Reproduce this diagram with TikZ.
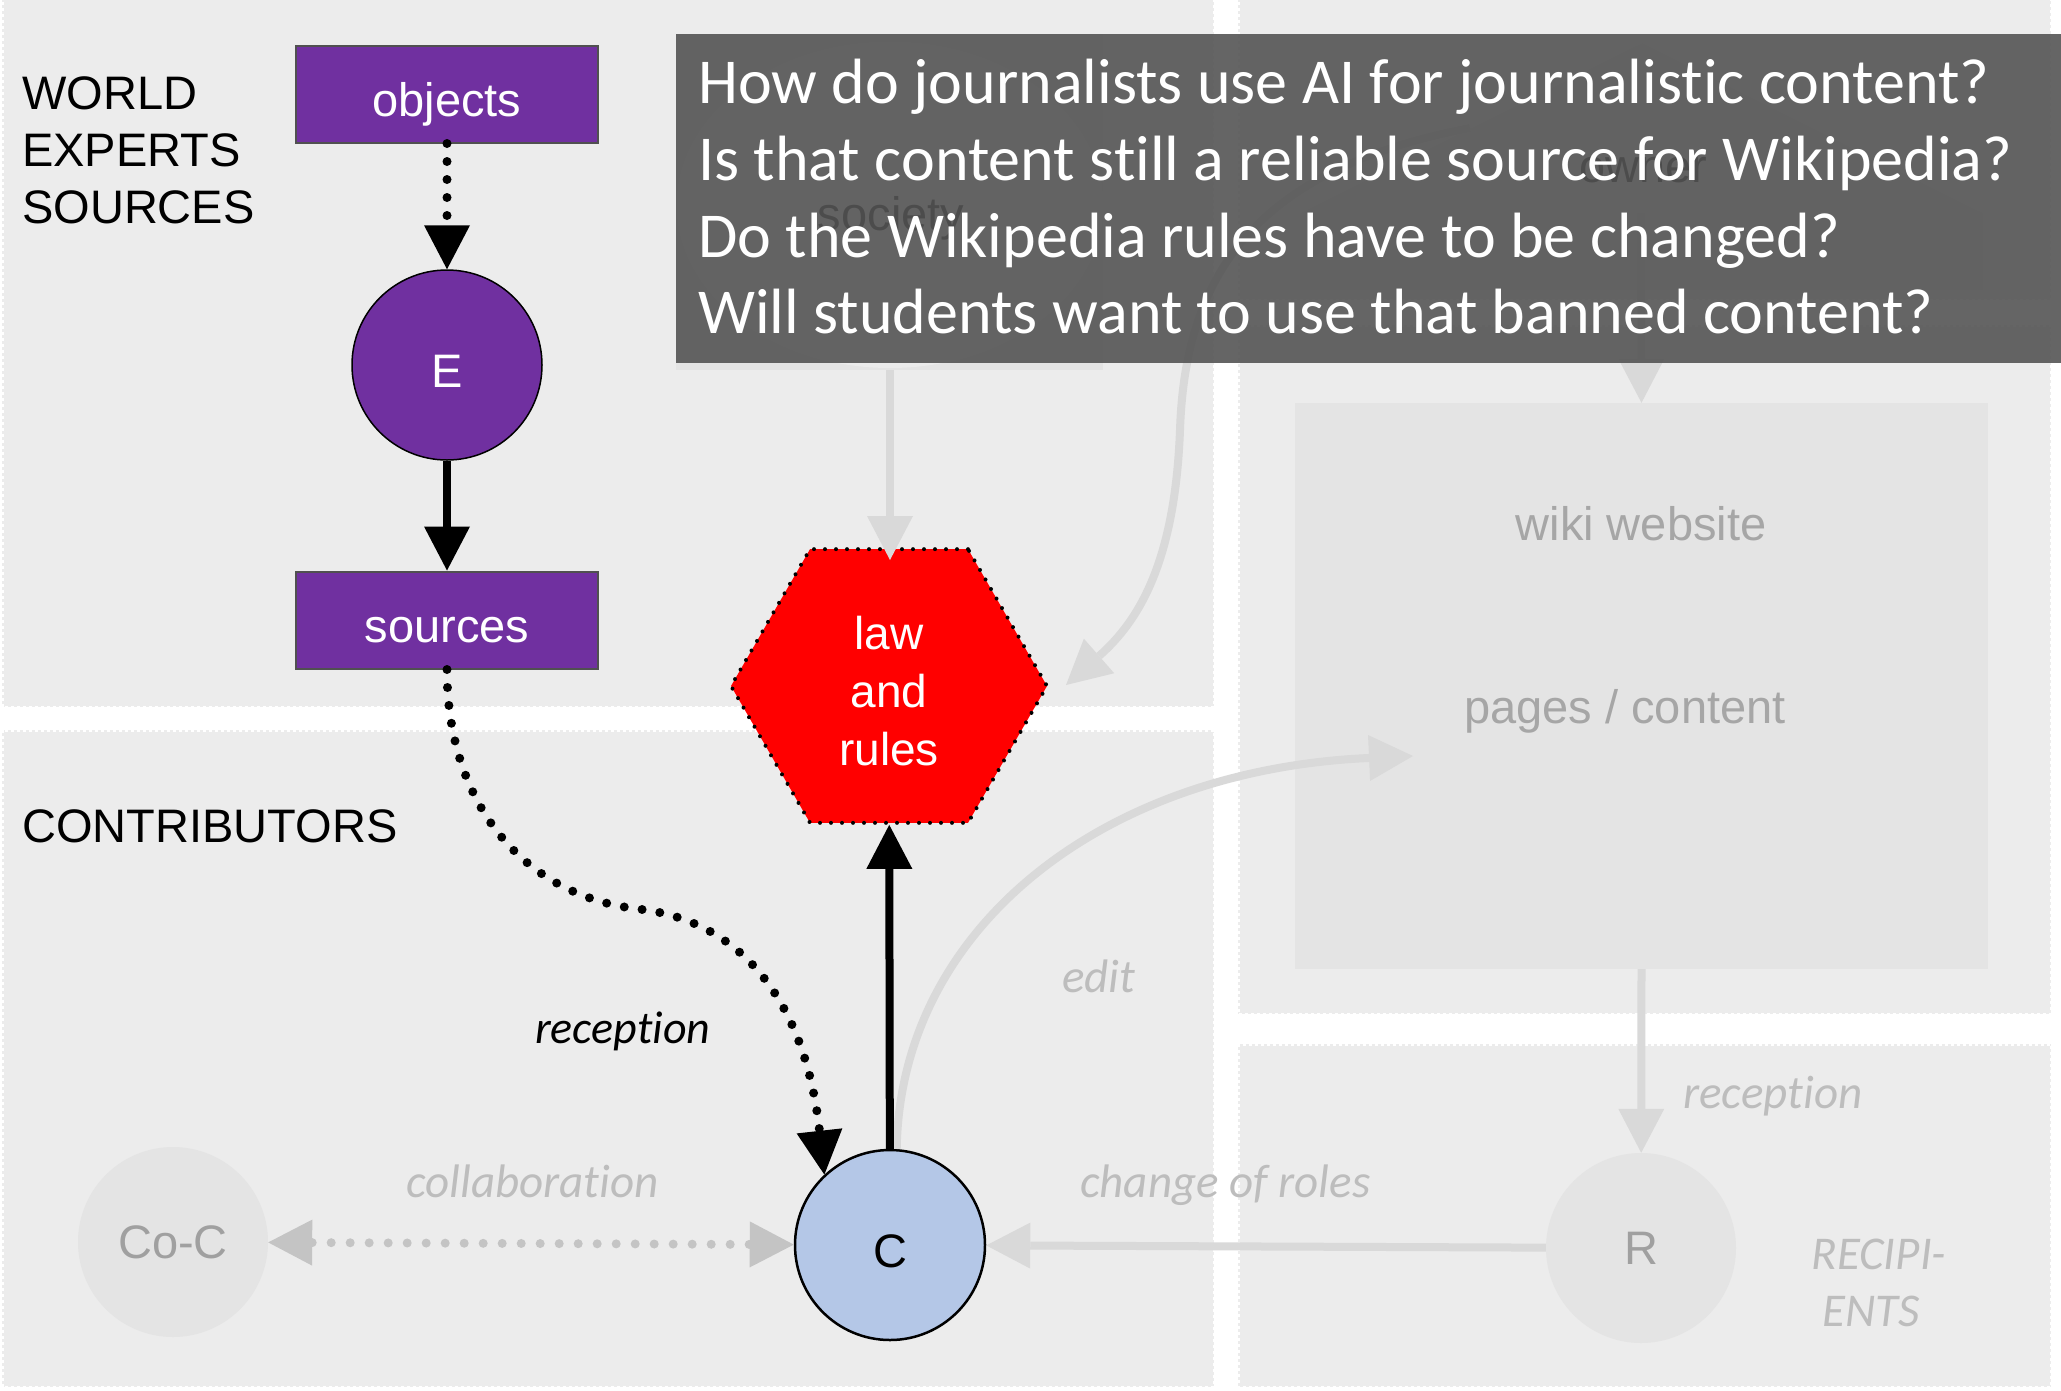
\documentclass[tikz,border=0pt]{standalone}
\usepackage{fontspec}
\setmainfont{Liberation Sans}
\newfontfamily\calib[Ligatures=NoCommon]{Carlito}
\usetikzlibrary{arrows.meta,shapes.geometric}
\definecolor{bgpanel}{HTML}{ECECEC}
\definecolor{purp}{HTML}{7030A0}
\definecolor{boxedge}{HTML}{505050}
\definecolor{cblue}{HTML}{B4C7E7}
\definecolor{faint}{HTML}{E4E4E4}
\definecolor{faintell}{HTML}{EBEBEB}
\definecolor{arrgray}{HTML}{D9D9D9}
\definecolor{dotgray}{HTML}{C4C4C4}
\definecolor{labgray}{HTML}{BDBDBD}
\definecolor{txtgray}{HTML}{A6A6A6}
\definecolor{circtxt}{HTML}{A0A0A0}
\definecolor{qboxcol}{HTML}{535353}
\definecolor{hidden}{HTML}{1A1A1A}
\newcommand\fs[2]{\fontsize{#1}{#2}\selectfont}
\begin{document}
\begin{tikzpicture}[x=1pt,y=-1pt,
  >={Triangle[length=44pt,width=46pt,line width=0pt]},
  panel/.style={fill=bgpanel,draw=white,line width=3pt,dash pattern=on 3pt off 3pt},
  purpbox/.style={rectangle,fill=purp,draw=boxedge,line width=2pt,minimum width=302pt,minimum height=97pt,inner sep=0pt,text=white,font=\fs{47}{57},text height=44pt,text depth=0pt},
  purpcirc/.style={circle,fill=purp,draw=black,line width=1.5pt,minimum size=190pt,inner sep=0pt,text=white,font=\fs{47}{57},text height=44pt,text depth=0pt},
  ccirc/.style={circle,fill=cblue,draw=black,line width=2.5pt,minimum size=190pt,inner sep=0pt,font=\fs{47}{57},text height=44pt,text depth=0pt},
  fcirc/.style={circle,fill=faint,minimum size=190pt,inner sep=0pt,text=circtxt,font=\fs{47}{57}},
  hexa/.style={regular polygon,regular polygon sides=6,minimum size=316pt,inner sep=0pt,fill=red,draw=black,line width=4pt,dash pattern=on 0pt off 11pt,line cap=round},
  hextext/.style={text=white,align=center,font=\fs{46}{58},inner sep=0pt},
  dotblk/.style={draw=black,line width=9pt,dash pattern=on 0pt off 18pt,line cap=round,->},
  solblk/.style={draw=black,line width=8pt,->},
  garrow/.style={draw=arrgray,line width=8pt,->},
  gdot/.style={draw=dotgray,line width=9pt,dash pattern=on 0pt off 19pt,line cap=round,<->},
  lab/.style={font=\fs{47}{57},anchor=base west,inner sep=0pt},
  glab/.style={font=\fs{47}{57},anchor=base,inner sep=0pt,text=txtgray},
  ilab/.style={font=\calib\itshape\fs{47}{57},text=labgray,anchor=base west,inner sep=0pt},
  qtxt/.style={font=\calib\fs{64}{77},text=white,anchor=base west,inner sep=0pt},
]
\useasboundingbox (0,0) rectangle (2061,1390);
\fill[white] (0,0) rectangle (2061,1390);
% panels
\draw[panel] (2,-10) rectangle (1214,707);
\draw[panel] (2,730) rectangle (1214,1387);
\draw[panel] (1238,-10) rectangle (2051,300);
\draw[panel] (1238,325) rectangle (2051,1014);
\draw[panel] (1238,1044) rectangle (2051,1387);

% faint background elements (society, owner, wiki website)
\node[rectangle,fill=faint,minimum width=427pt,minimum height=336pt,inner sep=0pt,anchor=north west] (socrect) at (676,34) {};
\node[ellipse,fill=faintell,minimum width=426pt,minimum height=326pt,inner sep=0pt] (socell) at (890,205) {};
\node[font=\fs{47}{57},text=hidden,anchor=base,inner sep=0pt] (soctext) at (891,230) {society};
\fill[faint] (1300,290) -- (1300,213) -- (1642,43) -- (1983,213) -- (1983,290) -- cycle;
\node[font=\fs{47}{57},text=hidden,anchor=base,inner sep=0pt] (owntext) at (1643,182) {owner};
\coordinate (ownbot) at (1641,213);
\coordinate (ownleft) at (1470,128);
\coordinate (socbot) at (890,370);
\coordinate (lawtop) at (890,560);
\coordinate (lawright) at (1066,685);
\coordinate (editend) at (1413,756);
\node[rectangle,fill=faint,minimum width=693pt,minimum height=566pt,inner sep=0pt] (wiki) at (1641.5,686) {};
\node[glab] (wikitext) at (1641,540) {wiki website};
\node[glab] (pages) at (1625,723) {pages / content};

% nodes
\node[purpbox] (obj) at (447,94) {objects};
\node[purpcirc] (E) at (447,365) {E};
\node[purpbox] (src) at (447,620) {sources};
\node[hexa] (law) at (889,686) {};
\node[hextext] (lawtext) at (889,691) {law\\and\\rules};
\node[ccirc] (C) at (890,1245) {C};
\node[fcirc] (CoC) at (173,1242) {Co-C};
\node[fcirc] (R) at (1641,1248) {R};

% grey connectors
\draw[garrow] (socbot) -- (lawtop);
\draw[garrow] (ownbot) -- (wiki.north);
\draw[garrow] (ownleft) .. controls (1250,170) and (1185,280) .. (1180,430) .. controls (1175,560) and (1140,620) .. (lawright);
\draw[garrow] (C.86) .. controls (900,930) and (1100,770) .. (editend);
\draw[garrow] (wiki.south) -- (R);
\draw[garrow] (R) -- (C);
\draw[gdot] (CoC) -- (C);

% black connectors
\draw[dotblk] (obj) -- (E);
\draw[solblk] (E) -- (src);
\draw[dotblk] (src.south) .. controls (447,800) and (520,895) .. (638,909) .. controls (740,920) and (805,1000) .. (C.133);
\draw[solblk] (C) -- (law);

% labels
\node[lab] (w1) at (22,109) {WORLD};
\node[lab] (w2) at (22,166) {EXPERTS};
\node[lab] (w3) at (22,223) {SOURCES};
\node[lab] (contrib) at (22,842) {CONTRIBUTORS};
\node[ilab,text=black,font=\calib\itshape\fs{46}{56}] (recep) at (535,1043) {reception};
\node[ilab] (edit) at (1062,992) {edit};
\node[ilab] (collab) at (406,1197) {collaboration};
\node[ilab] (change) at (1080,1197) {change of roles};
\node[ilab] (recep2) at (1683,1108) {reception};
\node[ilab,anchor=base] (recip1) at (1879,1269) {RECIPI-};
\node[ilab,anchor=base] (recip2) at (1871,1326) {ENTS};

% question box
\node[rectangle,fill=qboxcol,fill opacity=0.89,minimum width=1385pt,minimum height=329pt,inner sep=0pt,anchor=north west] (qbox) at (676,34) {};
\node[qtxt] (q1) at (698,103) {How do journalists use AI for journalistic content?};
\node[qtxt] (q2) at (698,180) {Is that content still a reliable source for Wikipedia?};
\node[qtxt] (q3) at (698,257) {Do the Wikipedia rules have to be changed?};
\node[qtxt] (q4) at (698,333) {Will students want to use that banned content?};
\end{tikzpicture}
\end{document}
